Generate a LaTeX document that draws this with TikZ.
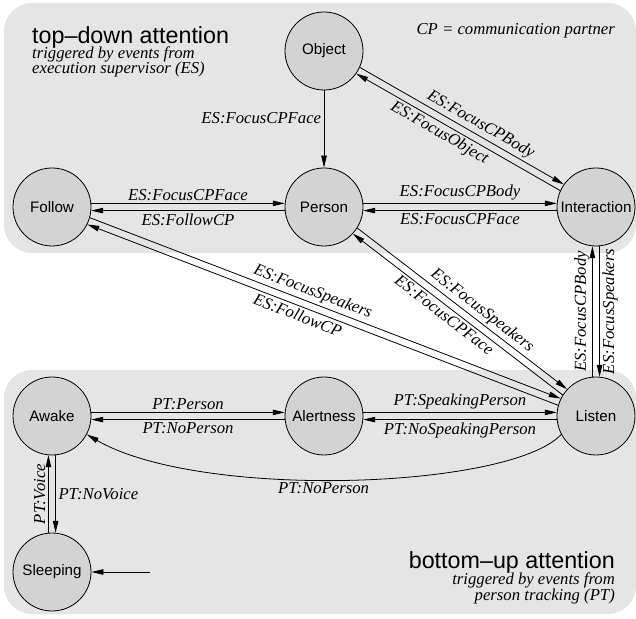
\documentclass[tikz,border=0pt]{standalone}
\usepackage{fontspec}
\setmainfont{Liberation Serif}
\setsansfont{Liberation Sans}
\usetikzlibrary{calc,arrows.meta}
\definecolor{bggray}{RGB}{229,229,229}
\definecolor{nodegray}{RGB}{211,211,211}
\newcommand{\pairlines}[6]{%
  \draw[arr,par] ($(#1)!3.6pt!90:(#2)$) -- node[lab,sloped,above,pos=#5]{#3} ($(#2)!3.6pt!-90:(#1)$);
  \draw[rarr,par] ($(#1)!3.6pt!-90:(#2)$) -- node[lab,sloped,below,pos=#6]{#4} ($(#2)!3.6pt!90:(#1)$);
}
\begin{document}
\begin{tikzpicture}[x=1pt,y=1pt,
  state/.style={circle, draw, line width=0.8pt, fill=nodegray, minimum size=78pt, inner sep=0pt,
    font=\sffamily\fontsize{15.2}{17}\selectfont},
  lab/.style={font=\itshape\fontsize{16.7}{18}\selectfont, inner sep=2.5pt},
  title/.style={font=\sffamily\fontsize{23.3}{26}\selectfont, inner sep=0pt},
  sub/.style={font=\itshape\fontsize{16.7}{18}\selectfont, inner sep=0pt},
  arr/.style={line width=0.8pt, -{Triangle[length=12pt,width=5.5pt]}},
  rarr/.style={line width=0.8pt, {Triangle[length=12pt,width=5.5pt]}-},
  par/.style={shorten <=39.2pt, shorten >=39.2pt},
  box/.style={fill=bggray, rounded corners=28pt}]

\useasboundingbox (0,0) rectangle (636,618);
\fill[box] (4,365) rectangle (636,615);
\fill[box] (4,4) rectangle (636,248);

% states
\node[state] (O) at (324,567) {Object};
\node[state] (F) at (52,411) {Follow};
\node[state] (P) at (324,411) {Person};
\node[state] (I) at (596,411) {Interaction};
\node[state] (A) at (52,202) {Awake};
\node[state] (L) at (324,202) {Alertness};
\node[state] (Li) at (596,202) {Listen};
\node[state] (S) at (52,46) {Sleeping};

% titles
\node[title, anchor=base west] (tdtitle) at (32,574) {top–down attention};
\node[sub, anchor=base west] (tdsubA) at (32,559) {triggered by events from};
\node[sub, anchor=base west] (tdsubB) at (32,544) {execution supervisor (ES)};
\node[sub, anchor=base east] (cpnote) at (615,583) {CP = communication partner};
\node[title, anchor=base east] (butitle) at (615,50) {bottom–up attention};
\node[sub, anchor=base east] (busubA) at (615,34) {triggered by events from};
\node[sub, anchor=base east] (busubB) at (615,18) {person tracking (PT)};

% transitions
\draw[arr] (O) -- node[lab,left,pos=0.36]{ES:FocusCPFace} (P);
\pairlines{O}{I}{ES:FocusCPBody}{ES:FocusObject}{0.55}{0.45}
\pairlines{F}{P}{ES:FocusCPFace}{ES:FollowCP}{0.5}{0.5}
\pairlines{P}{I}{ES:FocusCPBody}{ES:FocusCPFace}{0.5}{0.5}
\pairlines{F}{Li}{ES:FocusSpeakers}{ES:FollowCP}{0.47}{0.46}
\pairlines{P}{Li}{ES:FocusSpeakers}{ES:FocusCPFace}{0.55}{0.47}
\pairlines{Li}{I}{ES:FocusCPBody}{ES:FocusSpeakers}{0.5}{0.5}
\pairlines{A}{L}{PT:Person}{PT:NoPerson}{0.5}{0.5}
\pairlines{L}{Li}{PT:SpeakingPerson}{PT:NoSpeakingPerson}{0.5}{0.5}

\draw[arr,par] ($(S)!3.6pt!90:(A)$) -- node[lab,sloped,above]{PT:Voice} ($(A)!3.6pt!-90:(S)$);
\draw[rarr,par] ($(S)!3.6pt!-90:(A)$) -- node[lab,right]{PT:NoVoice} ($(A)!3.6pt!90:(S)$);

\draw[arr] (Li.-152) .. controls +(-51.6,-54.7) and +(113.6,-65.7) .. (A.-28)
  node[lab,pos=0.54,below]{PT:NoPerson};

\coordinate (init) at (150,46);
\draw[arr] (init) -- (S);
\end{tikzpicture}
\end{document}
